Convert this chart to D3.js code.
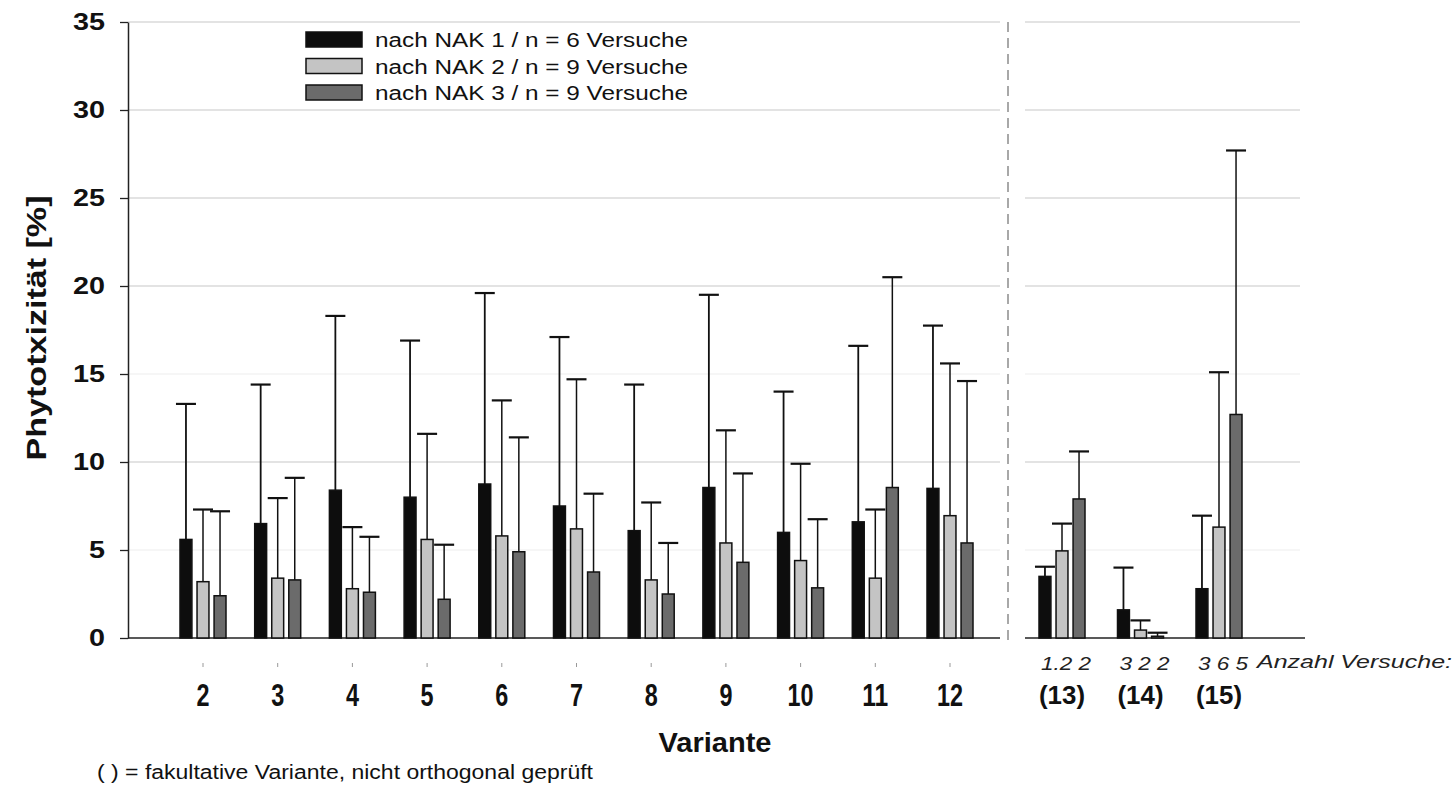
<!DOCTYPE html>
<html>
<head>
<meta charset="utf-8">
<script src="https://cdn.jsdelivr.net/npm/d3@7/dist/d3.min.js"></script>
<style>
  html, body { margin: 0; padding: 0; background: #fff; }
  svg { display: block; font-family: "Liberation Sans", Arial, sans-serif; }
</style>
</head>
<body>
<svg id="chart" width="1454" height="787"></svg>
<script>
// ---------- data ----------
const categories = ["2", "3", "4", "5", "6", "7", "8", "9", "10", "11", "12"];
const optCategories = ["(13)", "(14)", "(15)"];
const seriesNames = ["nach NAK 1 / n = 6 Versuche", "nach NAK 2 / n = 9 Versuche", "nach NAK 3 / n = 9 Versuche"];
const seriesColors = ["#0d0d0d", "#c4c4c4", "#6b6b6b"];
// mean values for variants 2..12, (13), (14), (15)
const nak1 = [5.6, 6.5, 8.4, 8.0, 8.75, 7.5, 6.1, 8.55, 6.0, 6.6, 8.5, 3.5, 1.6, 2.8];
const nak2 = [3.2, 3.4, 2.8, 5.6, 5.8, 6.2, 3.3, 5.4, 4.4, 3.4, 6.95, 4.95, 0.45, 6.3];
const nak3 = [2.4, 3.3, 2.6, 2.2, 4.9, 3.75, 2.5, 4.3, 2.85, 8.55, 5.4, 7.9, 0.1, 12.7];
// upper standard deviation
const nak1Err = [7.7, 7.9, 9.9, 8.9, 10.85, 9.6, 8.3, 10.95, 8.0, 10.0, 9.25, 0.55, 2.4, 4.15];
const nak2Err = [4.1, 4.55, 3.5, 6.0, 7.7, 8.5, 4.4, 6.4, 5.5, 3.9, 8.65, 1.55, 0.55, 8.8];
const nak3Err = [4.8, 5.8, 3.15, 3.1, 6.5, 4.45, 2.9, 5.05, 3.9, 11.95, 9.2, 2.7, 0.2, 15.0];
const countLabels = ["1.2 2", "3 2 2", "3 6 5"];
const yTicks = [0, 5, 10, 15, 20, 25, 30, 35];

// ---------- layout ----------
const svg = d3.select("#chart");
const y = d3.scaleLinear().domain([0, 35]).range([638, 22]);
const xMain = d3.scalePoint().domain(categories).range([203, 950]);
const xOpt = d3.scalePoint().domain(optCategories).range([1062, 1219]);
const xSub = d3.scaleBand().domain(seriesNames).range([-23, 23]).paddingInner(0.3).paddingOuter(0);

const allCats = categories.concat(optCategories);
const xGroup = c => categories.includes(c) ? xMain(c) : xOpt(c);

const means = [nak1, nak2, nak3];
const errs = [nak1Err, nak2Err, nak3Err];
const bars = [];
allCats.forEach((c, i) => {
  seriesNames.forEach((s, k) => {
    bars.push({cat: c, s: s, k: k, v: means[k][i], e: errs[k][i]});
  });
});

// ---------- gridlines ----------
const gridSpans = [[128, 1000], [1025, 1300]];
gridSpans.forEach(([x0, x1]) => {
  svg.append("g").selectAll("line").data(yTicks.filter(t => t > 0)).join("line")
    .attr("x1", x0).attr("x2", x1)
    .attr("y1", d => y(d)).attr("y2", d => y(d))
    .attr("stroke", d => (d === 5 || d === 15) ? "#eeeeee" : "#c8c8c8")
    .attr("stroke-width", 1.2);
});

// dashed separator
svg.append("line")
  .attr("x1", 1008).attr("x2", 1008).attr("y1", y(35)).attr("y2", y(0) + 2)
  .attr("stroke", "#7a7a7a").attr("stroke-width", 1.3).attr("stroke-dasharray", "10,6");

// ---------- y axis ----------
const yAxis = d3.axisLeft(y).tickValues(yTicks).tickSize(8).tickSizeOuter(0).tickPadding(14);
const gy = svg.append("g").attr("transform", "translate(128,0)").call(yAxis);
gy.select(".domain").attr("stroke", "#222").attr("stroke-width", 1.5);
gy.selectAll(".tick line").attr("stroke", "#222").attr("stroke-width", 1.3);
gy.selectAll(".tick text")
  .attr("x", -23)
  .attr("font-size", 23).attr("font-weight", "bold").attr("fill", "#111")
  .attr("font-family", "'Liberation Sans', Arial, sans-serif")
  .attr("textLength", d => String(d).length * 16)
  .attr("lengthAdjust", "spacingAndGlyphs");

// y title
svg.append("text")
  .attr("transform", "translate(46,328) rotate(-90)")
  .attr("text-anchor", "middle")
  .attr("font-size", 28).attr("font-weight", "bold").attr("fill", "#111")
  .attr("textLength", 265).attr("lengthAdjust", "spacingAndGlyphs")
  .text("Phytotxizität [%]");

// ---------- baselines ----------
svg.append("line").attr("x1", 128).attr("x2", 1000).attr("y1", y(0)).attr("y2", y(0))
  .attr("stroke", "#222").attr("stroke-width", 1.5);
svg.append("line").attr("x1", 1025).attr("x2", 1305).attr("y1", y(0)).attr("y2", y(0))
  .attr("stroke", "#222").attr("stroke-width", 1.5);

// ---------- error bars ----------
const eg = svg.append("g");
bars.forEach(b => {
  const cx = xGroup(b.cat) + xSub(b.s) + xSub.bandwidth() / 2;
  eg.append("line").attr("x1", cx).attr("x2", cx)
    .attr("y1", y(b.v)).attr("y2", y(b.v + b.e))
    .attr("stroke", "#111").attr("stroke-width", b.k === 0 ? 1.8 : 1.5);
  eg.append("line").attr("x1", cx - 10).attr("x2", cx + 10)
    .attr("y1", y(b.v + b.e)).attr("y2", y(b.v + b.e))
    .attr("stroke", "#111").attr("stroke-width", 2.2);
});

// ---------- bars ----------
svg.append("g").selectAll("rect").data(bars).join("rect")
  .attr("x", d => xGroup(d.cat) + xSub(d.s))
  .attr("width", xSub.bandwidth())
  .attr("y", d => y(d.v))
  .attr("height", d => y(0) - y(d.v))
  .attr("fill", d => seriesColors[d.k])
  .attr("stroke", "#111").attr("stroke-width", 1.5);

// ---------- x labels ----------
svg.append("g").selectAll("line").data(categories).join("line")
  .attr("x1", d => xMain(d)).attr("x2", d => xMain(d))
  .attr("y1", 663).attr("y2", 667)
  .attr("stroke", "#999").attr("stroke-width", 1);

svg.append("g").selectAll("text").data(categories).join("text")
  .attr("x", d => xMain(d)).attr("y", 706)
  .attr("text-anchor", "middle")
  .attr("font-family", "'Liberation Sans Narrow', 'Liberation Sans', Arial, sans-serif")
  .attr("font-size", 31).attr("font-weight", "bold").attr("fill", "#111")
  .attr("textLength", d => d.length * 13).attr("lengthAdjust", "spacingAndGlyphs")
  .text(d => d);

svg.append("g").selectAll("text").data(optCategories).join("text")
  .attr("x", d => xOpt(d)).attr("y", 704)
  .attr("text-anchor", "middle")
  .attr("font-size", 26).attr("font-weight", "bold").attr("fill", "#111")
  .attr("textLength", 46).attr("lengthAdjust", "spacingAndGlyphs")
  .text(d => d);

svg.append("g").selectAll("text").data(countLabels).join("text")
  .attr("x", (d, i) => xOpt(optCategories[i]) + 4).attr("y", 670)
  .attr("text-anchor", "middle")
  .attr("font-size", 18).attr("font-style", "italic").attr("fill", "#222")
  .attr("textLength", 50).attr("lengthAdjust", "spacingAndGlyphs")
  .text(d => d);

svg.append("text")
  .attr("x", 1257).attr("y", 668)
  .attr("font-size", 18).attr("font-style", "italic").attr("fill", "#222")
  .attr("textLength", 195).attr("lengthAdjust", "spacingAndGlyphs")
  .text("Anzahl Versuche:");

svg.append("text")
  .attr("x", 715).attr("y", 752)
  .attr("text-anchor", "middle")
  .attr("font-size", 28).attr("font-weight", "bold").attr("fill", "#111")
  .attr("textLength", 113).attr("lengthAdjust", "spacingAndGlyphs")
  .text("Variante");

svg.append("text")
  .attr("x", 97).attr("y", 779)
  .attr("font-size", 20).attr("fill", "#111")
  .attr("textLength", 496).attr("lengthAdjust", "spacingAndGlyphs")
  .text("( ) = fakultative Variante, nicht orthogonal geprüft");

// ---------- legend ----------
const lg = svg.append("g");
seriesNames.forEach((s, k) => {
  const top = 32 + k * 26.5;
  lg.append("rect").attr("x", 306).attr("y", top).attr("width", 56).attr("height", 15)
    .attr("fill", seriesColors[k]).attr("stroke", "#111").attr("stroke-width", 1.5);
  lg.append("text").attr("x", 375).attr("y", top + 15)
    .attr("font-size", 20).attr("fill", "#111")
    .attr("textLength", 313).attr("lengthAdjust", "spacingAndGlyphs")
    .text(s);
});
</script>
</body>
</html>
